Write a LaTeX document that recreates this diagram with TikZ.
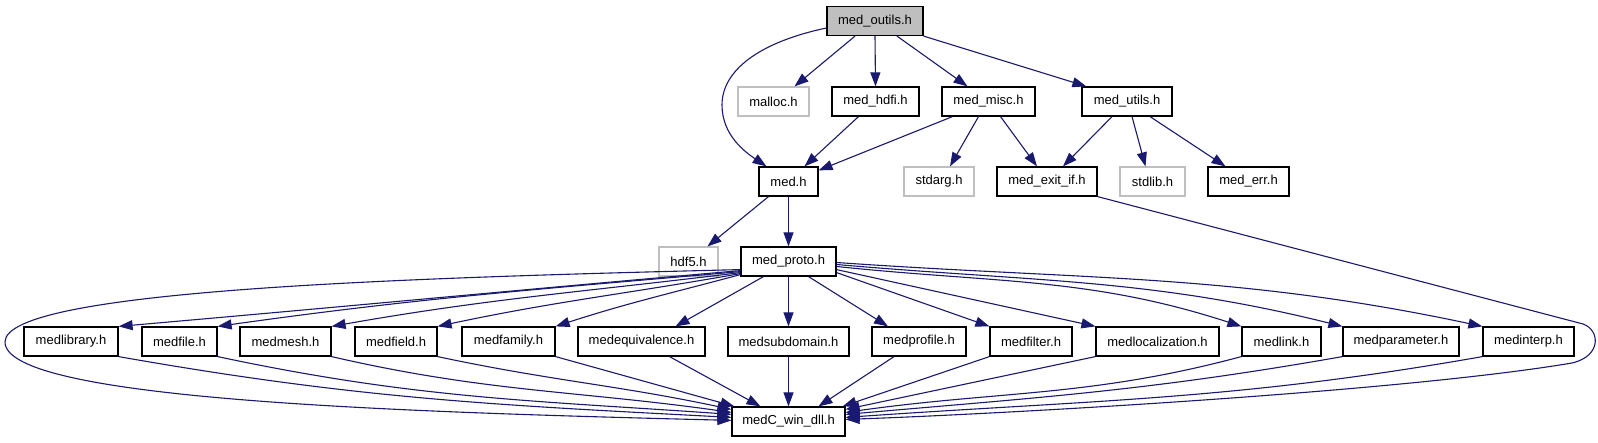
\documentclass[tikz,border=0pt]{standalone}
\usepackage{fontspec}
\setmainfont{Liberation Sans}
\usetikzlibrary{arrows.meta}
\definecolor{edgec}{HTML}{191970}
\definecolor{graybd}{HTML}{BFBFBF}
\begin{document}
\begin{tikzpicture}[x=1pt,y=-1pt,
  box/.style={draw=black,line width=1.2pt,fill=white,minimum height=29pt,inner sep=0pt,font=\fontsize{13}{15}\selectfont},
  gbox/.style={box,draw=graybd},
  edge/.style={draw=edgec,line width=1.1pt,-{Triangle[length=14pt,width=10pt]}},
]
\fill[white] (0,0) rectangle (1598,443);
\useasboundingbox (0,0) rectangle (1598,443);

% row 1-4
\node[box,fill=graybd,minimum width=96pt] (outils) at (875,21) {med\_outils.h};
\node[gbox,minimum width=71pt] (malloc) at (773.5,101.5) {malloc.h};
\node[box,minimum width=87pt] (hdfi) at (875.5,101.5) {med\_hdfi.h};
\node[box,minimum width=93pt] (misc) at (988.5,101.5) {med\_misc.h};
\node[box,minimum width=90pt] (utils) at (1127,101.5) {med\_utils.h};
\node[box,minimum width=59pt] (med) at (788.5,181.5) {med.h};
\node[gbox,minimum width=70pt] (stdarg) at (939,181.5) {stdarg.h};
\node[box,minimum width=100pt] (exit) at (1047,181.5) {med\_exit\_if.h};
\node[gbox,minimum width=65pt] (stdlib) at (1152.5,181.5) {stdlib.h};
\node[box,minimum width=81pt] (err) at (1248.5,181.5) {med\_err.h};
\node[gbox,minimum width=59pt] (hdf) at (688.5,261.5) {hdf5.h};
\node[box,minimum width=95pt] (proto) at (788.5,261.5) {med\_proto.h};
% row 5
\node[box,minimum width=94pt] (library) at (71,341.5) {medlibrary.h};
\node[box,minimum width=75pt] (file) at (179.5,341.5) {medfile.h};
\node[box,minimum width=91pt] (mesh) at (285.5,341.5) {medmesh.h};
\node[box,minimum width=82pt] (field) at (396,341.5) {medfield.h};
\node[box,minimum width=93pt] (family) at (508.5,341.5) {medfamily.h};
\node[box,minimum width=127pt] (equiv) at (641.5,341.5) {medequivalence.h};
\node[box,minimum width=121pt] (subdomain) at (788.5,341.5) {medsubdomain.h};
\node[box,minimum width=94pt] (profile) at (919,341.5) {medprofile.h};
\node[box,minimum width=82pt] (filter) at (1031,341.5) {medfilter.h};
\node[box,minimum width=123pt] (localization) at (1157.5,341.5) {medlocalization.h};
\node[box,minimum width=79pt] (link) at (1281.5,341.5) {medlink.h};
\node[box,minimum width=116pt] (parameter) at (1401,341.5) {medparameter.h};
\node[box,minimum width=91pt] (interp) at (1528.5,341.5) {medinterp.h};
% row 6
\node[box,minimum width=113pt] (medC) at (788.5,421.5) {medC\_win\_dll.h};

% edges top
\draw[edge] ([yshift=-7pt]outils.west) .. controls (760,42) and (722,70) .. (722,105) .. controls (722,135) and (745,152) .. ([xshift=-22pt]med.north);
\draw[edge] ([xshift=-20pt]outils.south) -- ([xshift=21pt]malloc.north);
\draw[edge] (outils.south) -- (hdfi.north);
\draw[edge] ([xshift=22pt]outils.south) -- ([xshift=-21pt]misc.north);
\draw[edge] (outils.south east) -- ([xshift=5pt]utils.north west);
\draw[edge] ([xshift=-17pt]hdfi.south) -- ([xshift=16pt]med.north);
\draw[edge] ([xshift=-36pt]misc.south) -- ([yshift=-4pt]med.north east);
\draw[edge] ([xshift=-10pt]misc.south) -- ([xshift=11pt]stdarg.north);
\draw[edge] ([xshift=12pt]misc.south) -- ([xshift=-10pt]exit.north);
\draw[edge] ([xshift=-15pt]utils.south) -- ([xshift=16pt]exit.north);
\draw[edge] ([xshift=5pt]utils.south) -- ([xshift=-7pt]stdlib.north);
\draw[edge] ([xshift=23pt]utils.south) -- ([xshift=-23pt]err.north);
\draw[edge] ([xshift=-20pt]med.south) -- ([xshift=19pt]hdf.north);
\draw[edge] (med.south) -- (proto.north);
\draw[edge] (exit.south east) -- (1583,324) .. controls (1600,330) and (1602,356) .. (1572,363) .. controls (1400,392) and (1000,414) .. ([yshift=-13pt]medC.north east);

% proto -> row 5
\draw[edge] ([yshift=6pt]proto.south west) to[out=185,in=5] (library.north east);
\draw[edge] ([yshift=5pt]proto.south west) to[out=185,in=8] (file.north east);
\draw[edge] ([yshift=4pt]proto.south west) to[out=187,in=10] (mesh.north east);
\draw[edge] ([yshift=3pt]proto.south west) to[out=190,in=12] (field.north east);
\draw[edge] ([yshift=2pt]proto.south west) to[out=195,in=18] (family.north east);
\draw[edge] ([yshift=7pt]proto.south west) .. controls (400,278) and (5,290) .. (5,342) .. controls (5,400) and (400,412) .. ([yshift=-14pt]medC.north west);
\draw[edge] ([xshift=-25pt]proto.south) -- ([xshift=34pt]equiv.north);
\draw[edge] (proto.south) -- (subdomain.north);
\draw[edge] ([xshift=20pt]proto.south) -- ([xshift=-31pt]profile.north);
\draw[edge] ([yshift=4pt]proto.south east) -- (filter.north west);
\draw[edge] ([yshift=7pt]proto.south east) -- (localization.north west);
\draw[edge] ([yshift=-5pt]proto.east) to[out=-6,in=162] (link.north west);
\draw[edge] ([yshift=-3pt]proto.east) to[out=-5,in=166] (parameter.north west);
\draw[edge] ([yshift=-1pt]proto.east) to[out=-4,in=168] (interp.north west);

% row 5 -> medC
\draw[edge] (library.south east) to[out=-10,in=177] ([yshift=-11pt]medC.north west);
\draw[edge] (file.south east) to[out=-12,in=176] ([yshift=-8pt]medC.north west);
\draw[edge] (mesh.south east) to[out=-13,in=172] ([yshift=-6pt]medC.north west);
\draw[edge] (field.south east) to[out=-12,in=168] ([yshift=-3pt]medC.north west);
\draw[edge] (family.south east) -- ([xshift=3pt]medC.north west);
\draw[edge] ([xshift=28pt]equiv.south) -- ([xshift=-28pt]medC.north);
\draw[edge] (subdomain.south) -- (medC.north);
\draw[edge] ([xshift=-25pt]profile.south) -- ([xshift=30pt]medC.north);
\draw[edge] (filter.south west) -- ([xshift=-3pt]medC.north east);
\draw[edge] (localization.south west) -- ([yshift=-3pt]medC.north east);
\draw[edge] (link.south west) to[out=195,in=8] ([yshift=-6pt]medC.north east);
\draw[edge] (parameter.south west) to[out=190,in=5] ([yshift=-8pt]medC.north east);
\draw[edge] (interp.south west) to[out=190,in=4] ([yshift=-11pt]medC.north east);
\end{tikzpicture}
\end{document}
